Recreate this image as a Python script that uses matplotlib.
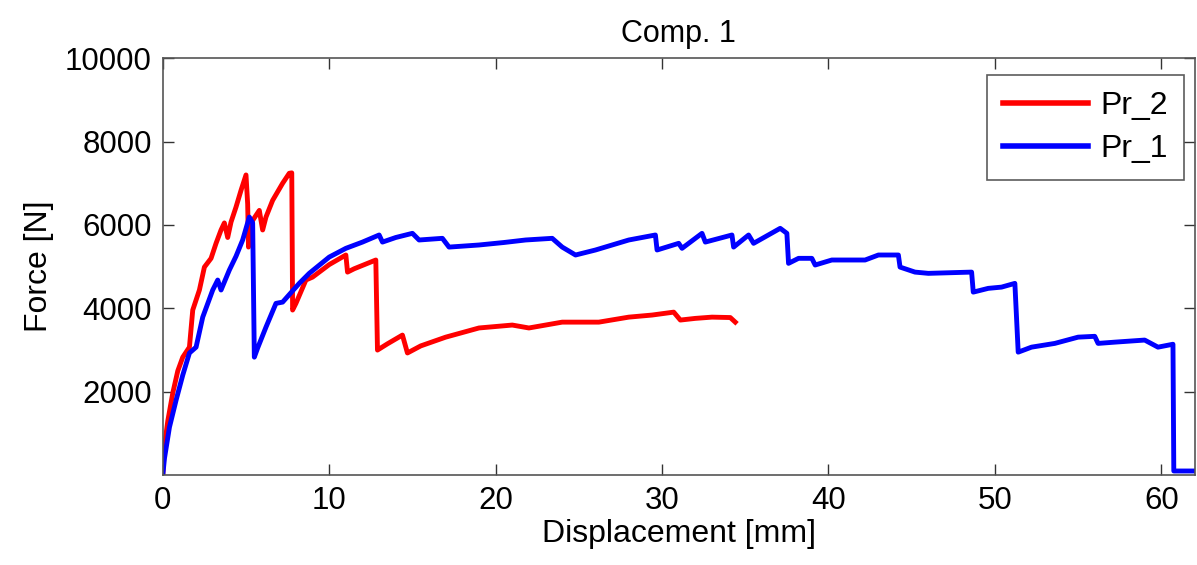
import matplotlib
matplotlib.use("Agg")
import matplotlib.pyplot as plt

plt.rcParams['font.family'] = ['Liberation Sans', 'DejaVu Sans']

# Specimen Pr_2: displacement [mm] and force [N]
pr2_disp = [0.0, 0.1, 0.3, 0.6, 0.9, 1.2, 1.6, 1.8, 2.2, 2.5, 2.9, 3.2, 3.5, 3.7, 3.9, 4.1,
            4.4, 4.7, 5.0, 5.1, 5.15, 5.4, 5.8, 6.0, 6.2, 6.6, 7.2, 7.6, 7.75, 7.8, 8.0, 8.6,
            9.0, 10.0, 11.0, 11.1, 11.5, 12.8, 12.9, 13.5, 14.4, 14.7, 15.5, 17.0, 19.0,
            21.0, 22.0, 23.0, 24.0, 26.2, 28.0, 29.4, 30.7, 31.1, 32.0, 33.0, 34.1, 34.4]
pr2_force = [0, 700, 1300, 1970, 2500, 2830, 3070, 3960, 4440, 4990, 5200, 5560, 5880, 6050,
             5700, 6070, 6430, 6830, 7200, 6500, 5470, 6110, 6350, 5880, 6190, 6590, 7000,
             7240, 7250, 3960, 4120, 4680, 4750, 5050, 5280, 4870, 4950, 5160, 3000, 3150,
             3360, 2930, 3100, 3310, 3530, 3600, 3530, 3600, 3670, 3670, 3790, 3840, 3910,
             3720, 3760, 3790, 3780, 3670]

# Specimen Pr_1: displacement [mm] and force [N]
pr1_disp = [0.0, 0.1, 0.4, 0.8, 1.2, 1.6, 2.0, 2.4, 3.0, 3.3, 3.5, 4.0, 4.4, 4.8, 5.2, 5.4,
            5.5, 5.7, 6.2, 6.8, 7.2, 8.2, 8.8, 10.0, 11.0, 12.0, 13.0, 13.2, 14.0, 15.0,
            15.4, 16.8, 17.2, 19.0, 20.5, 21.8, 23.4, 24.0, 24.8, 26.0, 28.0, 29.6, 29.7,
            31.0, 31.2, 32.4, 32.6, 34.2, 34.3, 35.2, 35.5, 37.1, 37.5, 37.6, 38.2, 39.0,
            39.2, 40.2, 42.2, 43.0, 44.2, 44.3, 45.2, 46.0, 48.6, 48.7, 49.6, 50.4, 51.2,
            51.4, 52.2, 53.6, 55.0, 56.0, 56.2, 57.2, 59.0, 59.8, 60.7, 60.75, 61.9]
pr1_force = [0, 400, 1150, 1800, 2400, 2930, 3070, 3790, 4440, 4680, 4440, 4920, 5250, 5640,
             6190, 6050, 2830, 3050, 3550, 4120, 4150, 4600, 4840, 5230, 5440, 5590, 5760,
             5590, 5700, 5800, 5640, 5680, 5470, 5520, 5580, 5640, 5680, 5470, 5280, 5400,
             5640, 5760, 5400, 5560, 5440, 5800, 5590, 5760, 5470, 5760, 5560, 5920, 5800,
             5080, 5200, 5200, 5040, 5160, 5160, 5280, 5280, 4990, 4870, 4840, 4870, 4390,
             4480, 4510, 4600, 2950, 3070, 3160, 3310, 3330, 3160, 3190, 3240, 3070, 3140,
             100, 100]

x_ticks = [0, 10, 20, 30, 40, 50, 60]
y_ticks = [2000, 4000, 6000, 8000, 10000]

fig = plt.figure(figsize=(11.97, 5.65), dpi=100)
ax = fig.add_axes([0.136, 0.159, 0.862, 0.738])

ax.plot(pr2_disp, pr2_force, color='#ff0000', lw=3.5, label='Pr_2')
ax.plot(pr1_disp, pr1_force, color='#0000ff', lw=3.5, label='Pr_1')

ax.set_xlim(0, 62)
ax.set_ylim(0, 10000)
ax.set_xticks(x_ticks)
ax.set_yticks(y_ticks)
ax.tick_params(direction='in', length=8, width=1, top=True, right=True,
               labelsize=22.5, pad=8, color='#333333')
for s in ax.spines.values():
    s.set_color('#555555')
    s.set_linewidth(1.2)

ax.set_xlabel('Displacement [mm]', fontsize=23, labelpad=2)
ax.set_ylabel('Force [N]', fontsize=23, labelpad=8)
ax.set_title('Comp. 1', fontsize=22, pad=12)

leg = ax.legend(loc='upper right', bbox_to_anchor=(0.990, 0.959), borderaxespad=0,
                fontsize=23, frameon=True, fancybox=False, edgecolor='#333333',
                handlelength=2.65, handletextpad=0.4, borderpad=0.5, labelspacing=0.4)
leg.get_frame().set_linewidth(1.2)
for h in leg.get_lines():
    h.set_linewidth(4.0)

fig.savefig('out.png', dpi=100)
